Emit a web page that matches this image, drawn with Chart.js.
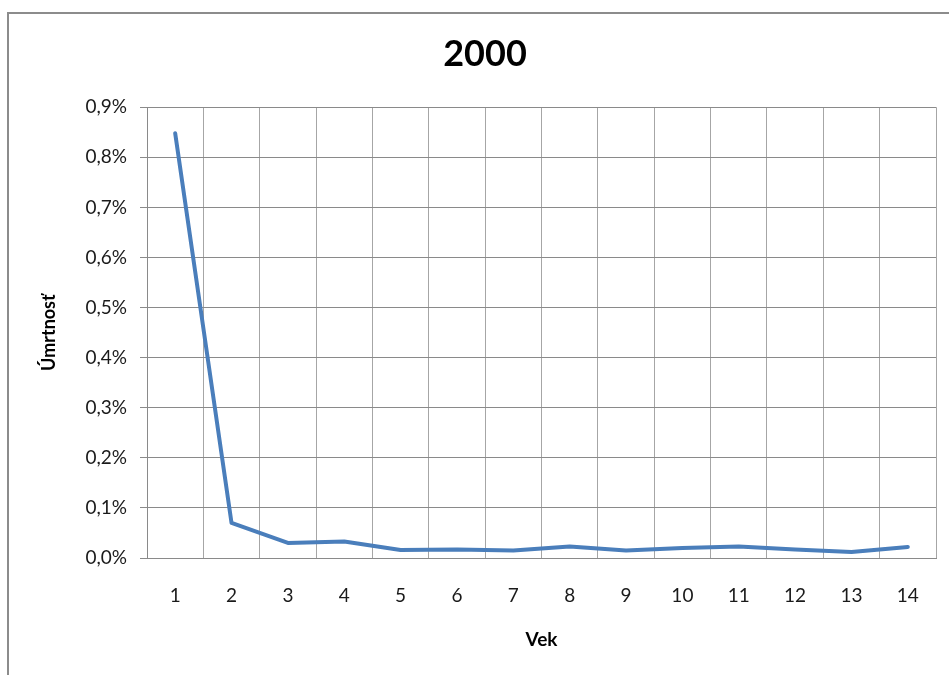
<!DOCTYPE html>
<html>
<head>
<meta charset="utf-8">
<script src="https://cdn.jsdelivr.net/npm/chart.js@4"></script>
<style>
  html, body { margin: 0; padding: 0; background: #fff; overflow: hidden; }
  #frame { position: absolute; left: 7px; top: 12px; width: 1000px; height: 700px;
           border-left: 2px solid #8c8c8c; border-top: 2px solid #8c8c8c; }
  #chart { position: absolute; left: 0; top: 0; }
</style>
</head>
<body>
<div id="frame"></div>
<canvas id="chart" width="949" height="675"></canvas>
<script>
// Age (years) on the category axis
const ages = ['1', '2', '3', '4', '5', '6', '7', '8', '9', '10', '11', '12', '13', '14'];
// Mortality rate in percent for each age
const mortality = [0.848, 0.070, 0.030, 0.033, 0.016, 0.017, 0.015, 0.023, 0.015, 0.020, 0.023, 0.017, 0.012, 0.022];
// Y axis range and step (percent)
const yMin = 0;
const yMax = 0.9;
const yStep = 0.1;

const chartTitle = '2000';
const xTitle = 'Vek';
const yTitle = 'Úmrtnosť';

const FONT = 'Lato, "Open Sans", sans-serif';

new Chart(document.getElementById('chart'), {
  type: 'line',
  data: {
    labels: ages,
    datasets: [{
      data: mortality,
      borderColor: '#4a7ebb',
      borderWidth: 4,
      pointRadius: 0,
      pointHoverRadius: 0,
      tension: 0,
      borderJoinStyle: 'round',
      borderCapStyle: 'round',
      fill: false
    }]
  },
  options: {
    responsive: false,
    animation: false,
    layout: { padding: { left: 34, right: 13, top: 0, bottom: 0 } },
    plugins: {
      legend: { display: false },
      tooltip: { enabled: false },
      title: {
        display: true,
        text: chartTitle,
        color: '#000',
        font: { family: FONT, size: 36, weight: 'bold', lineHeight: 1.2 },
        padding: { top: 33, bottom: 31 }
      }
    },
    scales: {
      x: {
        offset: true,
        grid: { offset: true, color: '#a6a6a6', lineWidth: 1, drawTicks: false },
        border: { display: true, color: '#8a8a8a', width: 1 },
        ticks: { color: '#1a1a1a', font: { family: FONT, size: 19 }, padding: 26, maxRotation: 0, autoSkip: false },
        title: {
          display: true, text: xTitle, color: '#000',
          font: { family: FONT, size: 19, weight: 'bold', lineHeight: 1.2 },
          padding: { top: 0, bottom: 24 }
        },
        afterFit(scale) { scale.height = 117; }
      },
      y: {
        min: yMin,
        max: yMax,
        grid: { color: '#8a8a8a', lineWidth: 1, drawTicks: true, tickLength: 7 },
        border: { display: true, color: '#8a8a8a', width: 1 },
        ticks: {
          stepSize: yStep,
          color: '#1a1a1a',
          font: { family: FONT, size: 19 },
          padding: 13,
          callback: (v) => v.toFixed(1).replace('.', ',') + '%'
        },
        title: {
          display: true, text: yTitle, color: '#000',
          font: { family: FONT, size: 18, weight: 'bold', lineHeight: 1.2 },
          padding: { top: 4, bottom: 0 }
        },
        afterFit(scale) { scale.width = 113; }
      }
    }
  }
});
</script>
</body>
</html>
